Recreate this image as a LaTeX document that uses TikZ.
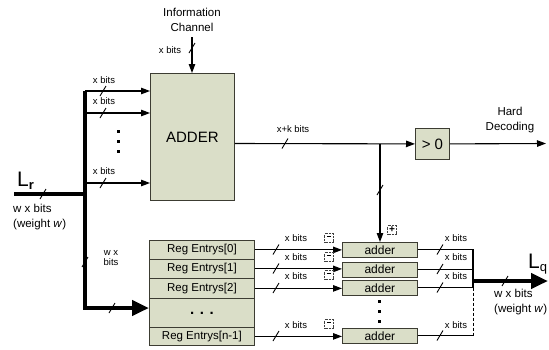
\documentclass[tikz,border=0pt]{standalone}
\usepackage{fontspec}
\setmainfont{Liberation Sans}
\usetikzlibrary{arrows.meta}
\definecolor{boxfill}{RGB}{218,222,200}
\definecolor{boxline}{RGB}{60,60,50}
\newcommand\bitslash[1]{\draw[tick] (#1) ++(-3,5) -- ++(6,-10);}
\begin{document}
\begin{tikzpicture}[x=1pt,y=-1pt,
  blk/.style={draw=boxline, fill=boxfill, line width=0.8pt, inner sep=0pt, anchor=north west},
  regrow/.style={blk, minimum width=105pt, font=\fontsize{11.5}{11.5}\selectfont},
  addrow/.style={blk, minimum width=75pt, minimum height=15pt, font=\fontsize{12}{12}\selectfont},
  wire/.style={line width=1.1pt},
  arr/.style={wire, -{Triangle[length=9pt,width=6.5pt]}},
  bus/.style={line width=4.5pt},
  busarr/.style={bus, -{Triangle[length=17pt,width=15pt]}},
  lbl/.style={font=\fontsize{9.5}{10}\selectfont, inner sep=0pt},
  txt/.style={font=\fontsize{11.5}{14.5}\selectfont, inner sep=0pt, align=center},
  sgn/.style={draw=black!75, densely dotted, minimum size=9pt, inner sep=0pt, font=\fontsize{10}{10}\selectfont\bfseries},
  tick/.style={line width=0.9pt}]
\useasboundingbox (0,0) rectangle (549,349);

% main adder and threshold
\node[blk, minimum width=84pt, minimum height=127pt, font=\fontsize{15}{15}\selectfont] (ADD) at (150,73) {ADDER};
\node[blk, minimum width=34pt, minimum height=31pt, font=\fontsize{15}{15}\selectfont] (gt) at (415,128) {> 0};

% register stack
\node[regrow, minimum height=19pt] (r0) at (149,240) {Reg Entrys[0]};
\node[regrow, minimum height=19pt] (r1) at (149,259) {Reg Entrys[1]};
\node[regrow, minimum height=20pt] (r2) at (149,278) {Reg Entrys[2]};
\node[regrow, minimum height=29pt, font=\fontsize{15}{15}\selectfont\bfseries] (rd) at (149,298) {. . .};
\node[regrow, minimum height=18pt] (rn) at (149,327) {Reg Entrys[n-1]};

% row adders
\node[addrow] (a0) at (342,242) {adder};
\node[addrow] (a1) at (342,261.5) {adder};
\node[addrow] (a2) at (342,280) {adder};
\node[addrow] (a3) at (342,328) {adder};

% labels
\node[txt] (info) at (192,20) {Information\\Channel};
\node[txt] (hard) at (510,120) {Hard\\Decoding};
\node[inner sep=0pt, anchor=base west] (lr) at (17,186) {\fontsize{21}{21}\selectfont L\raisebox{-3pt}{\fontsize{13}{13}\selectfont\bfseries r}};
\node[inner sep=0pt, anchor=base west] (lq) at (528,268) {\fontsize{21}{21}\selectfont L\raisebox{-3pt}{\fontsize{13}{13}\selectfont q}};
\node[txt, align=left, anchor=north west] (lrw) at (13,204) {w x bits\\(weight \textit{w})};
\node[txt, align=left, anchor=north west] (lqw) at (494,289) {w x bits\\(weight \textit{w})};

% bus coordinates
\coordinate (bt) at (85,91);
\coordinate (bb) at (85,308);
\coordinate (lrs) at (14,194);
\coordinate (lrj) at (85,194);
\coordinate (ich) at (192,37);
\coordinate (j) at (380,143.5);
\coordinate (hdo) at (546,143.5);
\coordinate (ot) at (473,249.5);
\coordinate (om) at (473,287.5);
\coordinate (ob) at (473,335.5);
\coordinate (qs) at (473,281);
\coordinate (qe) at (548,281);

% wide buses
\draw[bus] (lrs) -- (lrj);
\draw[busarr, line join=miter] (bt) -- (bb) -- (bb -| rd.west);
\draw[busarr] (qs) -- (qe);

% inputs to the adder
\draw[arr] (ich) -- (ADD.north -| ich);
\draw[arr] (bt) -- (bt -| ADD.west);
\draw[arr] (85,113) -- (ADD.west |- 0,113);
\draw[arr] (85,183) -- (ADD.west |- 0,183);
\foreach \y in {130,140,150} \fill (117,\y) rectangle ++(2.8,2.8);

% adder output to threshold and row adders
\draw[arr] (ADD.east |- j) -- (gt.west);
\draw[arr] (gt.east) -- (hdo);
\draw[arr] (j) -- (a0.north -| j);

% register entries to row adders
\draw[arr] (r0.east) -- (r0.east -| a0.west);
\draw[arr] (r1.east) -- (r1.east -| a1.west);
\draw[arr] (r2.east) -- (r2.east -| a2.west);
\draw[arr] (rn.east) -- (rn.east -| a3.west);
\foreach \y in {300,310,320} \fill (378,\y) rectangle ++(2.8,2.8);

% row adder outputs merged into L_q
\draw[wire] (a0.east) -- (a0.east -| ot) -- (om);
\draw[wire] (a1.east) -- (a1.east -| ot);
\draw[wire] (a2.east) -- (a2.east -| ot);
\draw[wire] (a3.east) -- (a3.east -| ot);
\draw[wire, densely dashed, line width=0.8pt] (om) -- (ob);

% bit width markers
\bitslash{192,48}
\bitslash{103,91}
\bitslash{103,113}
\bitslash{103,183}
\bitslash{43,194}
\bitslash{85,262}
\bitslash{112,308}
\bitslash{285,143.5}
\bitslash{380,190}
\bitslash{505,281}
\foreach \y in {249.5,268.5,288,336} {\bitslash{276,\y}}
\foreach \y in {249.5,269,287.5,335.5} {\bitslash{440,\y}}

% bit width labels
\node[lbl] at (170,50) {x bits};
\node[lbl] at (104,80) {x bits};
\node[lbl] at (104,101) {x bits};
\node[lbl] at (104,171) {x bits};
\node[lbl] at (293,129) {x+k bits};
\node[lbl, align=center] at (111,258) {w x\\bits};
\foreach \y in {238,257,276,325} {\node[lbl] at (296,\y) {x bits};}
\foreach \y in {238,257,276,325} {\node[lbl] at (456,\y) {x bits};}

% operand signs
\node[sgn] at (392,230) {+};
\foreach \y in {238,257,275,324} {\node[sgn] at (329,\y) {\rule[2.6pt]{4.5pt}{1.2pt}};}
\end{tikzpicture}
\end{document}
